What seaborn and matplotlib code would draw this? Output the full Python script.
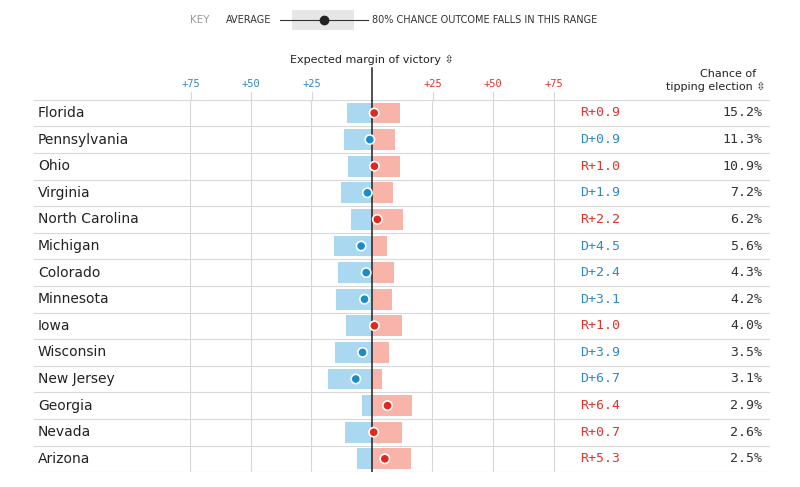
import matplotlib
matplotlib.use("Agg")
import matplotlib.pyplot as plt
import seaborn as sns
import pandas as pd

# Daten (positiv = Republikaner, negativ = Demokraten)
states = ["Florida", "Pennsylvania", "Ohio", "Virginia", "North Carolina", "Michigan",
          "Colorado", "Minnesota", "Iowa", "Wisconsin", "New Jersey", "Georgia",
          "Nevada", "Arizona"]
low = [-10.3, -11.6, -9.9, -12.8, -8.7, -15.7, -14.0, -14.9, -10.7, -15.3, -18.2, -4.1, -11.2, -6.2]
high = [11.6, 9.5, 11.6, 8.7, 12.8, 6.2, 9.1, 8.3, 12.4, 7.0, 4.1, 16.5, 12.4, 16.1]
mean = [0.9, -0.9, 1.0, -1.9, 2.2, -4.5, -2.4, -3.1, 1.0, -3.9, -6.7, 6.4, 0.7, 5.3]
tipping = [15.2, 11.3, 10.9, 7.2, 6.2, 5.6, 4.3, 4.2, 4.0, 3.5, 3.1, 2.9, 2.6, 2.5]
ticks = [-75, -50, -25, 25, 50, 75]

df = pd.DataFrame({"state": states, "low": low, "high": high, "mean": mean, "tip": tipping})
df["party"] = ["R" if m > 0 else "D" for m in df["mean"]]

BLUE_BAR, RED_BAR = "#a9d8f0", "#f9b4aa"
BLUE, RED = "#1a8ccc", "#e2271b"
BLUE_T, RED_T = "#2f8ac4", "#e0352a"

W, H = 800, 487
fig = plt.figure(figsize=(8, 4.87), dpi=100)
px = 2.42  # Pixel pro Prozentpunkt
x0, x1, xc = 34, 770, 372
top, rowh = 99.7, 26.6
bottom = top + rowh * len(states)
ax = fig.add_axes([x0 / W, 1 - bottom / H, (x1 - x0) / W, (bottom - top) / H])

sns.barplot(data=df, x="low", y="state", color=BLUE_BAR, width=0.78, ax=ax, saturation=1)
sns.barplot(data=df, x="high", y="state", color=RED_BAR, width=0.78, ax=ax, saturation=1)
sns.scatterplot(data=df, x="mean", y="state", hue="party", palette={"R": RED, "D": BLUE},
                s=45, edgecolor="white", linewidth=1.2, legend=False, ax=ax, zorder=5)

ax.set_xlim((x0 - xc) / px, (x1 - xc) / px)
ax.set_ylim(len(states) - 0.5, -0.5)
ax.axis("off")

for t in ticks:
    ax.axvline(t, color="#d8d8d8", lw=0.8, zorder=0)
for i in range(len(states) + 1):
    ax.axhline(i - 0.5, color="#d8d8d8", lw=0.8, zorder=0)
ax.axvline(0, color="#222222", lw=1.1, zorder=4)
fig.add_artist(plt.Line2D([xc / W, xc / W], [1 - 68 / H, 1 - top / H], color="#222222", lw=1.1))
for t in ticks:
    fig.add_artist(plt.Line2D([(xc + t * px) / W] * 2, [1 - 92 / H, 1 - top / H], color="#d8d8d8", lw=0.8))

mono = "DejaVu Sans Mono"
for i, r in df.iterrows():
    ax.text((38 - xc) / px, i, r["state"], va="center", ha="left", fontsize=10, color="#222222")
    lab = f"{r['party']}+{abs(r['mean']):.1f}"
    ax.text((620 - xc) / px, i, lab, va="center", ha="right", fontsize=9.5, family=mono,
            color=RED_T if r["party"] == "R" else BLUE_T)
    ax.text((762 - xc) / px, i, f"{r['tip']:.1f}%", va="center", ha="right", fontsize=9.5,
            family=mono, color="#333333")

for t in ticks:
    fig.text((xc + t * px) / W, 1 - 84 / H, f"+{abs(t)}", ha="center", va="center", fontsize=7.5,
             family=mono, color=RED_T if t > 0 else BLUE_T)

fig.text(xc / W, 1 - 60 / H, "Expected margin of victory \u21f3", ha="center", va="center",
         fontsize=8, color="#222222", family=["DejaVu Sans"])
fig.text(756 / W, 1 - 74 / H, "Chance of", ha="right", va="center", fontsize=8, color="#222222")
fig.text(766 / W, 1 - 87 / H, "tipping election \u21f3", ha="right", va="center", fontsize=8, color="#222222")

# Legende oben
fig.text(190 / W, 1 - 20 / H, "KEY", ha="left", va="center", fontsize=7.5, color="#999999")
fig.text(226 / W, 1 - 20 / H, "AVERAGE", ha="left", va="center", fontsize=7, color="#333333")
fig.add_artist(plt.Rectangle((292 / W, 1 - 30 / H), 62 / W, 20 / H, color="#e6e6e6", lw=0))
fig.add_artist(plt.Line2D([280 / W, 368 / W], [1 - 20 / H] * 2, color="#333333", lw=0.8))
fig.add_artist(plt.Line2D([324 / W], [1 - 20 / H], marker="o", ms=6, color="#222222"))
fig.text(372 / W, 1 - 20 / H, "80% CHANCE OUTCOME FALLS IN THIS RANGE", ha="left", va="center",
         fontsize=7, color="#333333")

fig.savefig("out.png", dpi=100, facecolor="white")
